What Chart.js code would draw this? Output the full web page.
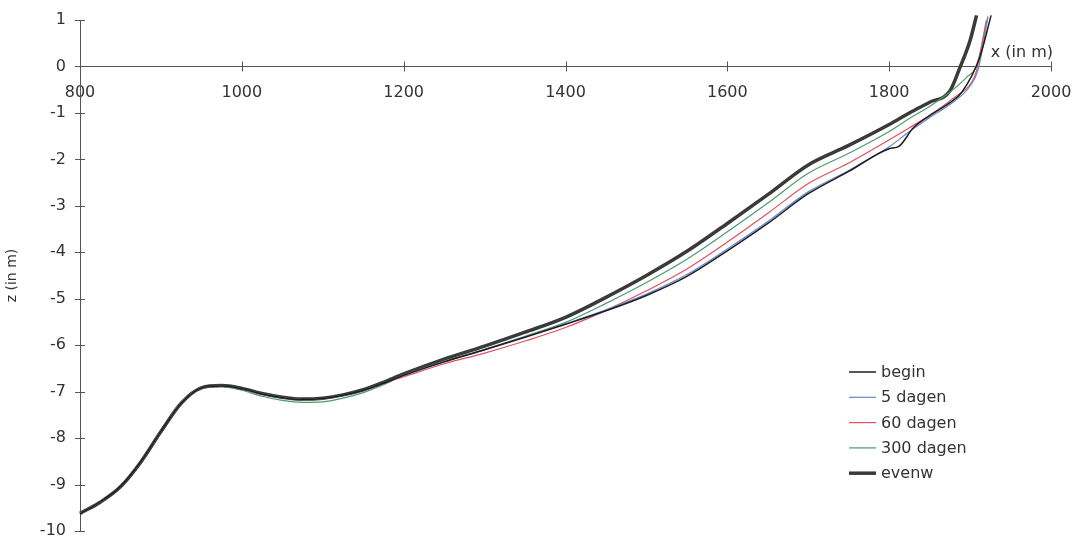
<!DOCTYPE html>
<html>
<head>
<meta charset="utf-8">
<script src="https://cdn.jsdelivr.net/npm/chart.js@4/dist/chart.umd.min.js"></script>
<style>
  html, body { margin: 0; padding: 0; background: #fff; }
  #wrap { width: 1075px; height: 542px; }
</style>
</head>
<body>
<div id="wrap"><canvas id="profile"></canvas></div>
<script>
// cross-shore position (m), shared by all profiles up to 1800 m
const distance = [800, 825, 850, 875, 900, 925, 950, 975, 1000, 1025, 1050, 1075, 1100, 1125, 1150, 1175,
  1200, 1250, 1300, 1350, 1400, 1450, 1500, 1550, 1600, 1650, 1700, 1750, 1800];

// bed level z (m) per profile on the shared positions
const beginZ  = [-9.63, -9.37, -9.04, -8.51, -7.85, -7.25, -6.92, -6.88, -6.94, -7.05, -7.13, -7.17, -7.15, -7.08, -6.97, -6.82,
  -6.65, -6.36, -6.10, -5.83, -5.55, -5.26, -4.93, -4.52, -3.97, -3.38, -2.74, -2.26, -1.77];
const dag5Z   = [-9.63, -9.37, -9.04, -8.51, -7.85, -7.25, -6.92, -6.88, -6.94, -7.05, -7.13, -7.17, -7.15, -7.08, -6.97, -6.82,
  -6.65, -6.36, -6.10, -5.82, -5.54, -5.24, -4.90, -4.48, -3.93, -3.34, -2.70, -2.24, -1.73];
const dag60Z  = [-9.63, -9.37, -9.04, -8.51, -7.85, -7.25, -6.92, -6.88, -6.94, -7.05, -7.13, -7.17, -7.15, -7.08, -6.97, -6.82,
  -6.68, -6.40, -6.17, -5.91, -5.62, -5.25, -4.83, -4.36, -3.78, -3.16, -2.52, -2.08, -1.58];
const dag300Z = [-9.62, -9.36, -9.03, -8.50, -7.84, -7.24, -6.93, -6.89, -6.97, -7.10, -7.19, -7.23, -7.22, -7.14, -7.02, -6.85,
  -6.65, -6.35, -6.09, -5.81, -5.51, -5.10, -4.65, -4.15, -3.56, -2.94, -2.30, -1.87, -1.40];
const evenwZ  = [-9.62, -9.38, -9.05, -8.52, -7.86, -7.25, -6.92, -6.87, -6.93, -7.04, -7.12, -7.16, -7.14, -7.07, -6.96, -6.80,
  -6.62, -6.30, -6.02, -5.72, -5.40, -4.97, -4.50, -3.98, -3.38, -2.76, -2.12, -1.70, -1.25];

// steep part near the shoreline, each profile on its own positions
const beginTailX  = [1812, 1830, 1850, 1875, 1890, 1912, 1926];
const beginTailZ  = [-1.72, -1.32, -1.06, -0.78, -0.55, 0.20, 1.10];
const dag5TailX   = [1825, 1850, 1878, 1900, 1910, 1922];
const dag5TailZ   = [-1.40, -1.10, -0.78, -0.42, -0.06, 1.05];
const dag60TailX  = [1825, 1850, 1881, 1902, 1908, 1920];
const dag60TailZ  = [-1.32, -1.05, -0.66, -0.34, -0.09, 0.99];
const dag300TailX = [1825, 1850, 1876, 1896, 1908, 1922];
const dag300TailZ = [-1.12, -0.86, -0.54, -0.23, 0.02, 1.08];
const evenwTailX  = [1825, 1850, 1875, 1888, 1900, 1908];
const evenwTailZ  = [-1.00, -0.77, -0.53, 0.00, 0.56, 1.10];

const xTicks = [800, 1000, 1200, 1400, 1600, 1800, 2000];
const zTicks = [1, 0, -1, -2, -3, -4, -5, -6, -7, -8, -9, -10];

const FONT = 'DejaVu Sans';
const TEXT = '#333';
const AXIS = '#555';

function profile(zs, tailX, tailZ) {
  const pts = distance.map((x, i) => ({ x, y: zs[i] }));
  tailX.forEach((x, i) => pts.push({ x, y: tailZ[i] }));
  return pts;
}

function line(label, data, color, width, order) {
  return {
    label, data,
    borderColor: color,
    borderWidth: width,
    pointRadius: 0,
    cubicInterpolationMode: 'monotone',
    clip: 10,
    order
  };
}

// keep tick label overhang from shrinking the plot area
function noOverhang(scale) {
  scale.paddingTop = 0;
  scale.paddingBottom = 0;
  scale.paddingLeft = 0;
  scale.paddingRight = 0;
}

// axis ticks that cross the axis lines, plus the x label and the legend
const decorations = {
  id: 'decorations',
  afterDraw(chart) {
    const { ctx, scales: { x, y } } = chart;
    const x0 = x.getPixelForValue(800);
    const y0 = y.getPixelForValue(0);
    ctx.save();
    ctx.strokeStyle = AXIS;
    ctx.lineWidth = 1;
    ctx.beginPath();
    xTicks.forEach(v => {
      const px = Math.round(x.getPixelForValue(v)) + 0.5;
      ctx.moveTo(px, y0 - 5);
      ctx.lineTo(px, y0 + 5);
    });
    zTicks.forEach(v => {
      const py = Math.round(y.getPixelForValue(v)) + 0.5;
      ctx.moveTo(x0 - 5, py);
      ctx.lineTo(x0 + 5, py);
    });
    ctx.stroke();

    ctx.fillStyle = TEXT;
    ctx.font = `16px "${FONT}"`;
    ctx.textAlign = 'right';
    ctx.textBaseline = 'middle';
    ctx.fillText('x (in m)', x.right + 2, y0 - 14);

    // legend
    const lx = 849, ly = 372, row = 25.3;
    ctx.textAlign = 'left';
    chart.data.datasets.forEach((ds, i) => {
      const yy = ly + i * row;
      ctx.strokeStyle = ds.borderColor;
      ctx.lineWidth = ds.borderWidth;
      ctx.beginPath();
      ctx.moveTo(lx, yy);
      ctx.lineTo(lx + 27, yy);
      ctx.stroke();
      ctx.fillText(ds.label, lx + 32, yy + 1);
    });
    ctx.restore();
  }
};

new Chart(document.getElementById('profile'), {
  type: 'line',
  data: {
    datasets: [
      line('begin', profile(beginZ, beginTailX, beginTailZ), '#1e1e1e', 1.5, 1),
      line('5 dagen', profile(dag5Z, dag5TailX, dag5TailZ), '#6485cf', 1.2, 2),
      line('60 dagen', profile(dag60Z, dag60TailX, dag60TailZ), '#e2505e', 1.2, 3),
      line('300 dagen', profile(dag300Z, dag300TailX, dag300TailZ), '#4f9a6c', 1.2, 4),
      line('evenw', profile(evenwZ, evenwTailX, evenwTailZ), '#3a3a3a', 3.5, 5)
    ]
  },
  options: {
    responsive: true,
    maintainAspectRatio: false,
    animation: false,
    layout: { padding: { top: 20, right: 24, bottom: 11, left: 0 } },
    plugins: {
      legend: { display: false },
      tooltip: { enabled: false }
    },
    scales: {
      x: {
        type: 'linear',
        position: { y: 0 },
        min: 800,
        max: 2000,
        afterBuildTicks: scale => { scale.ticks = xTicks.map(value => ({ value })); },
        afterFit: noOverhang,
        grid: { display: false },
        border: { display: true, color: AXIS, width: 1 },
        ticks: {
          color: TEXT, font: { family: FONT, size: 16 }, padding: 9, maxRotation: 0,
          callback: v => String(v)
        }
      },
      y: {
        type: 'linear',
        position: 'left',
        min: -10,
        max: 1,
        afterBuildTicks: scale => { scale.ticks = zTicks.map(value => ({ value })); },
        afterFit: scale => { noOverhang(scale); scale.width = 80; },
        grid: { display: false },
        border: { display: true, color: AXIS, width: 1 },
        ticks: { color: TEXT, font: { family: FONT, size: 16 }, padding: 6, callback: v => String(v) },
        title: {
          display: true,
          text: 'z (in m)',
          color: TEXT,
          font: { family: FONT, size: 14 },
          padding: { top: 4, bottom: 0 }
        }
      }
    }
  },
  plugins: [decorations]
});
</script>
</body>
</html>
